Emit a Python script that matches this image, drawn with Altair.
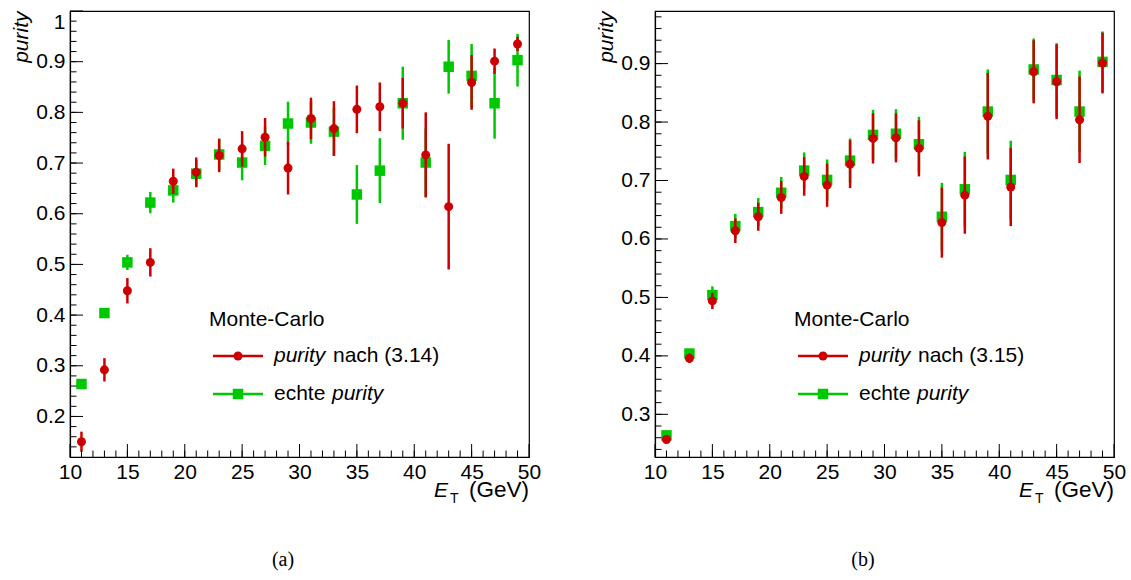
import altair as alt
import pandas as pd

# ---------------- data ----------------
et = [11, 13, 15, 17, 19, 21, 23, 25, 27, 29, 31, 33, 35, 37, 39, 41, 43, 45, 47, 49]

# panel (a): purity nach (3.14)
red_a = [0.150, 0.292, 0.448, 0.504, 0.664, 0.682, 0.715, 0.728, 0.751, 0.690,
         0.788, 0.768, 0.806, 0.811, 0.818, 0.716, 0.614, 0.859, 0.901, 0.935]
red_a_err = [0.020, 0.023, 0.025, 0.028, 0.025, 0.029, 0.033, 0.035, 0.038, 0.052,
             0.041, 0.054, 0.047, 0.048, 0.050, 0.084, 0.124, 0.054, 0.025, 0.014]

# panel (b): purity nach (3.15)
red_b = [0.257, 0.396, 0.494, 0.614, 0.638, 0.671, 0.707, 0.692, 0.728, 0.772,
         0.773, 0.755, 0.628, 0.675, 0.810, 0.689, 0.886, 0.869, 0.804, 0.901]
red_b_err = [0.004, 0.008, 0.014, 0.021, 0.024, 0.028, 0.033, 0.037, 0.041, 0.043,
             0.042, 0.048, 0.060, 0.066, 0.074, 0.067, 0.054, 0.064, 0.074, 0.052]

# echte purity (same in both panels)
green = [0.264, 0.404, 0.504, 0.622, 0.646, 0.679, 0.717, 0.701, 0.734, 0.778,
         0.780, 0.762, 0.638, 0.685, 0.818, 0.701, 0.890, 0.872, 0.818, 0.903]
green_err = [0.004, 0.005, 0.015, 0.021, 0.024, 0.027, 0.031, 0.035, 0.038, 0.043,
             0.042, 0.047, 0.058, 0.064, 0.072, 0.067, 0.053, 0.063, 0.070, 0.052]

x_major = [10, 15, 20, 25, 30, 35, 40, 45, 50]
x_minor = list(range(11, 50))
ya_major = [0.2, 0.3, 0.4, 0.5, 0.6, 0.7, 0.8, 0.9, 1.0]
ya_minor = [round(0.14 + 0.02 * i, 2) for i in range(43)]
yb_major = [0.3, 0.4, 0.5, 0.6, 0.7, 0.8, 0.9]
yb_minor = [round(0.24 + 0.02 * i, 2) for i in range(38)]

RED = "#cc0000"
GREEN = "#00c800"
FONT = "Liberation Sans"
FS = 21
W, H = 459, 446


def series_df(vals, errs):
    return pd.DataFrame({
        "et": et,
        "v": vals,
        "lo": [v - e for v, e in zip(vals, errs)],
        "hi": [v + e for v, e in zip(vals, errs)],
    })


def one_row():
    return pd.DataFrame({"a": [1]})


def panel(red_vals, red_errs, ydom, ymajor, yminor, eq_label, caption, cap_x):
    xs = alt.Scale(domain=[10, 50], nice=False, zero=False)
    ys = alt.Scale(domain=ydom, nice=False, zero=False)
    gdf = series_df(green, green_err)
    rdf = series_df(red_vals, red_errs)

    x_axis = alt.Axis(values=x_major, format="d", title=None, ticks=False, tickSize=0,
                      labelPadding=4, grid=False, labelFlush=False)
    y_axis = alt.Axis(values=ymajor, format=".1~f", title="purity", ticks=False, tickSize=0,
                      labelPadding=5, grid=False, labelFlush=True,
                      titleAnchor="end", titleFontStyle="italic", titlePadding=4)

    def X(f):
        return alt.X(f, scale=xs, axis=x_axis, title=None)

    def Y(f):
        return alt.Y(f, scale=ys, axis=y_axis, title="purity")

    g_bar = alt.Chart(gdf).mark_rule(color=GREEN, strokeWidth=2.5).encode(
        x=X("et:Q"), y=Y("lo:Q"), y2="hi:Q")
    g_pt = alt.Chart(gdf).mark_point(shape="square", filled=True, size=110,
                                     color=GREEN, opacity=1).encode(x=X("et:Q"), y=Y("v:Q"))
    r_bar = alt.Chart(rdf).mark_rule(color=RED, strokeWidth=2.5).encode(
        x=X("et:Q"), y=Y("lo:Q"), y2="hi:Q")
    r_pt = alt.Chart(rdf).mark_point(shape="circle", filled=True, size=81,
                                     color=RED, opacity=1).encode(x=X("et:Q"), y=Y("v:Q"))

    # inward ticks (ROOT style)
    def yticks(vals, length):
        return alt.Chart(pd.DataFrame({"t": vals})).mark_rule(color="black", strokeWidth=1).encode(
            y=Y("t:Q"), x=alt.value(0), x2=alt.value(length))

    def xticks(vals, length):
        return alt.Chart(pd.DataFrame({"t": vals})).mark_rule(color="black", strokeWidth=1).encode(
            x=X("t:Q"), y=alt.value(H), y2=alt.value(H - length))

    ticks = [yticks(yminor, 6.5), yticks(ymajor, 13), xticks(x_minor, 6.5), xticks(x_major, 13)]

    def txt(text, x, y, size=FS, style="normal", align="left", baseline="alphabetic", font=FONT):
        return alt.Chart(one_row()).mark_text(
            text=text, font=font, fontSize=size, fontStyle=style, align=align,
            baseline=baseline, color="black").encode(x=alt.value(x), y=alt.value(y))

    # x axis title  E_T (GeV)
    xtitle = [
        txt("E", 364, 486, style="italic"),
        txt("T", 380, 492, size=14),
        txt("(GeV)", W, 486, size=22.5, align="right"),
    ]

    # legend
    leg = [
        txt("Monte-Carlo", 139, 309, baseline="middle"),
        alt.Chart(one_row()).mark_rule(color=RED, strokeWidth=2.5).encode(
            x=alt.value(143), x2=alt.value(193), y=alt.value(345)),
        alt.Chart(one_row()).mark_point(shape="circle", filled=True, size=81, color=RED,
                                        opacity=1).encode(x=alt.value(168), y=alt.value(345)),
        txt("purity", 204, 345, style="italic", baseline="middle"),
        txt(eq_label, 263, 345, baseline="middle"),
        alt.Chart(one_row()).mark_rule(color=GREEN, strokeWidth=2.5).encode(
            x=alt.value(143), x2=alt.value(193), y=alt.value(383)),
        alt.Chart(one_row()).mark_point(shape="square", filled=True, size=110, color=GREEN,
                                        opacity=1).encode(x=alt.value(168), y=alt.value(383)),
        txt("echte ", 204, 383, baseline="middle"),
        txt("purity", 262, 383, style="italic", baseline="middle"),
    ]

    cap = txt(caption, cap_x, 549, size=20, align="center", baseline="middle",
              font="Liberation Serif")

    return alt.layer(g_bar, g_pt, r_bar, r_pt, *ticks, *xtitle, *leg, cap).properties(
        width=W, height=H)


left = panel(red_a, red_a_err, [0.12, 1.0], ya_major, ya_minor, "nach (3.14)", "(a)", 213)
right = panel(red_b, red_b_err, [0.227, 0.99], yb_major, yb_minor, "nach (3.15)", "(b)", 208)

chart = alt.hconcat(left, right, spacing=53).properties(
    padding={"left": 10, "top": 9, "right": 0, "bottom": 0},
    background="white",
).configure_view(
    stroke="black", strokeWidth=1.2
).configure_axis(
    labelFont=FONT, labelFontSize=FS, labelColor="black",
    titleFont=FONT, titleFontSize=FS, titleColor="black", titleFontWeight="normal",
    domainColor="black", domainWidth=1.2,
)

chart.save("out.html", embed_options={"renderer": "svg", "actions": False})
